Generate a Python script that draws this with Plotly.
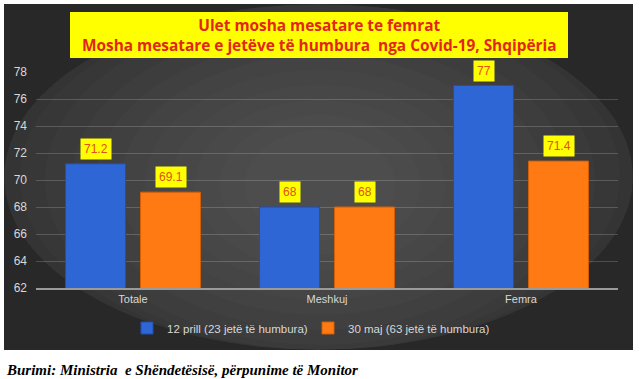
import plotly.graph_objects as go

categories = ["Totale", "Meshkuj", "Femra"]
series_names = ["12 prill (23 jetë të humbura)", "30 maj (63 jetë të humbura)"]
april_values = [71.2, 68, 77]
may_values = [69.1, 68, 71.4]
tick_values = [62, 64, 66, 68, 70, 72, 74, 76, 78]

W, H = 640, 379
L, R, T, B = 36, 22, 72, 91
pw, ph = W - L - R, H - T - B

def px_x(px):
    return (px - L) / pw

def px_y(py):
    return (H - B - py) / ph

fig = go.Figure()
colors = ["#2f66d6", "#ff7a12"]
lines = ["#1f4fb0", "#d45e05"]
for name, vals, c, lc in zip(series_names, [april_values, may_values], colors, lines):
    fig.add_trace(go.Bar(x=categories, y=vals, name=name,
                         marker=dict(color=c, line=dict(color=lc, width=1))))

shapes = []
# dark background panel
shapes.append(dict(type="rect", xref="paper", yref="paper", layer="below",
                   x0=px_x(4), x1=px_x(633), y0=px_y(350), y1=px_y(4),
                   fillcolor="#282828", line=dict(width=0)))
# radial-ish glow
cx, cy = 320, 185
for i in range(14):
    rx = 400 - i * 25
    ry = 250 - i * 15
    shapes.append(dict(type="circle", xref="paper", yref="paper", layer="below",
                       x0=px_x(max(cx - rx, 4)), x1=px_x(min(cx + rx, 633)),
                       y0=px_y(min(cy + ry, 350)), y1=px_y(max(cy - ry, 4)),
                       fillcolor="rgba(255,255,255,0.016)", line=dict(width=0)))
# title box
shapes.append(dict(type="rect", xref="paper", yref="paper", layer="above",
                   x0=px_x(70), x1=px_x(568), y0=px_y(58), y1=px_y(12),
                   fillcolor="#ffff00", line=dict(color="#ffff00", width=0)))

annotations = []
annotations.append(dict(xref="paper", yref="paper", x=px_x(319), y=px_y(35),
                        text="<b>Ulet mosha mesatare te femrat<br>Mosha mesatare e jetëve të humbura  nga Covid-19, Shqipëria</b>",
                        showarrow=False, xanchor="center", yanchor="middle",
                        font=dict(family="Open Sans", size=15.4, color="#e3261c"),
                        align="center"))
for vals, shift in [(april_values, -37.5), (may_values, 37.5)]:
    for c, v in zip(categories, vals):
        annotations.append(dict(x=c, y=v, xref="x", yref="y", text=f"{v:g}",
                                showarrow=False, xshift=shift, yshift=4,
                                yanchor="bottom", bgcolor="#ffff00",
                                borderpad=3,
                                font=dict(family="Liberation Sans", size=12, color="#e0501a")))
annotations.append(dict(xref="paper", yref="paper", x=px_x(4), y=px_y(370),
                        text="<b><i>Burimi: Ministria  e Shëndetësisë, përpunime të Monitor</i></b>",
                        showarrow=False, xanchor="left", yanchor="middle",
                        font=dict(family="Liberation Serif", size=15, color="#000000")))

fig.update_layout(
    width=W, height=H,
    margin=dict(l=L, r=R, t=T, b=B, pad=0),
    paper_bgcolor="white", plot_bgcolor="rgba(0,0,0,0)",
    barmode="group", bargap=0.227, bargroupgap=0.2,
    shapes=shapes, annotations=annotations,
    showlegend=True,
    legend=dict(orientation="h", x=px_x(127), xanchor="left", y=px_y(328), yanchor="middle",
                font=dict(family="Liberation Sans", size=11.5, color="#d8d8d8"),
                bgcolor="rgba(0,0,0,0)", itemwidth=30, tracegroupgap=0,
                entrywidth=136),
    font=dict(family="Liberation Sans"),
)
fig.update_xaxes(showgrid=False, showline=True, linecolor="#9a9a9a", linewidth=1.5,
                 tickfont=dict(size=11, color="#d8d8d8"), ticks="", zeroline=False)
fig.update_yaxes(range=[62, 78], tickvals=tick_values, showgrid=True,
                 gridcolor="rgba(255,255,255,0.18)", gridwidth=1, zeroline=False,
                 showline=False, ticks="", ticklabelstandoff=8,
                 tickfont=dict(size=12, color="#d8d8d8"))

fig.write_html("out.html", config={"displayModeBar": False},
               post_script="document.body.style.margin='0';document.body.style.padding='0';")
